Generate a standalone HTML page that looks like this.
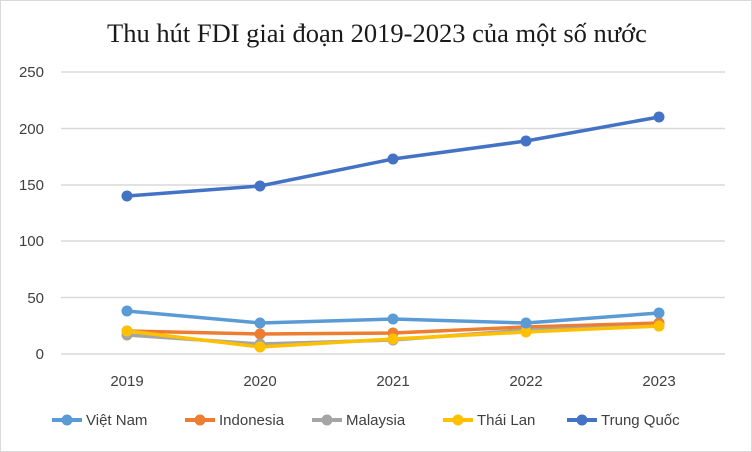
<!DOCTYPE html>
<html><head><meta charset="utf-8"><style>
body{margin:0;background:#fff}
svg{display:block}
</style></head><body>
<svg width="752" height="452" viewBox="0 0 752 452" xmlns="http://www.w3.org/2000/svg">
<rect x="0.5" y="0.5" width="751" height="451" fill="#fff" stroke="#d9d9d9"/>
<text x="377" y="42" text-anchor="middle" font-family="Liberation Serif, serif" font-size="26.5" fill="#1a1a1a">Thu hút FDI giai  đoạn 2019-2023 của một số nước</text>
<g stroke="#d9d9d9" stroke-width="1.5">
<line x1="61" x2="725" y1="72" y2="72"/><line x1="61" x2="725" y1="128.5" y2="128.5"/><line x1="61" x2="725" y1="185" y2="185"/><line x1="61" x2="725" y1="241" y2="241"/><line x1="61" x2="725" y1="297.5" y2="297.5"/><line x1="61" x2="725" y1="354" y2="354"/>
</g>
<g font-family="Liberation Sans, sans-serif" font-size="15" fill="#404040" text-anchor="end">
<text x="44" y="77">250</text><text x="44" y="134">200</text><text x="44" y="190">150</text><text x="44" y="246">100</text><text x="44" y="303">50</text><text x="44" y="359">0</text>
</g>
<g font-family="Liberation Sans, sans-serif" font-size="15" fill="#404040" text-anchor="middle">
<text x="127" y="386">2019</text><text x="260" y="386">2020</text><text x="393" y="386">2021</text><text x="526" y="386">2022</text><text x="659" y="386">2023</text>
</g>
<g stroke-width="3.5" fill="none" stroke-linejoin="round">
<polyline stroke="#ed7d31" points="127,331 260,334 393,333 526,327 659,323"/>
<polyline stroke="#a5a5a5" points="127,335 260,344 393,340 526,330 659,326"/>
<polyline stroke="#ffc000" points="127,331 260,347 393,339 526,332 659,326"/>
<polyline stroke="#5b9bd5" points="127,311 260,323 393,319 526,323 659,313"/>
<polyline stroke="#4472c4" points="127,196 260,186 393,159 526,141 659,117"/>
</g>
<g>
<g fill="#ed7d31"><circle cx="127" cy="331" r="5.5"/><circle cx="260" cy="334" r="5.5"/><circle cx="393" cy="333" r="5.5"/><circle cx="526" cy="327" r="5.5"/><circle cx="659" cy="323" r="5.5"/></g>
<g fill="#a5a5a5"><circle cx="127" cy="335" r="5.5"/><circle cx="260" cy="344" r="5.5"/><circle cx="393" cy="340" r="5.5"/><circle cx="526" cy="330" r="5.5"/><circle cx="659" cy="326" r="5.5"/></g>
<g fill="#ffc000"><circle cx="127" cy="331" r="5.5"/><circle cx="260" cy="347" r="5.5"/><circle cx="393" cy="339" r="5.5"/><circle cx="526" cy="332" r="5.5"/><circle cx="659" cy="326" r="5.5"/></g>
<g fill="#5b9bd5"><circle cx="127" cy="311" r="5.5"/><circle cx="260" cy="323" r="5.5"/><circle cx="393" cy="319" r="5.5"/><circle cx="526" cy="323" r="5.5"/><circle cx="659" cy="313" r="5.5"/></g>
<g fill="#4472c4"><circle cx="127" cy="196" r="5.5"/><circle cx="260" cy="186" r="5.5"/><circle cx="393" cy="159" r="5.5"/><circle cx="526" cy="141" r="5.5"/><circle cx="659" cy="117" r="5.5"/></g>
</g>
<g font-family="Liberation Sans, sans-serif" font-size="15" fill="#404040">
<line x1="52" x2="82" y1="420" y2="420" stroke="#5b9bd5" stroke-width="4"/><circle cx="67" cy="420" r="5.5" fill="#5b9bd5"/><text x="86" y="425">Việt Nam</text>
<line x1="185" x2="215" y1="420" y2="420" stroke="#ed7d31" stroke-width="4"/><circle cx="200" cy="420" r="5.5" fill="#ed7d31"/><text x="219" y="425">Indonesia</text>
<line x1="312" x2="342" y1="420" y2="420" stroke="#a5a5a5" stroke-width="4"/><circle cx="327" cy="420" r="5.5" fill="#a5a5a5"/><text x="346" y="425">Malaysia</text>
<line x1="443" x2="473" y1="420" y2="420" stroke="#ffc000" stroke-width="4"/><circle cx="458" cy="420" r="5.5" fill="#ffc000"/><text x="477" y="425">Thái Lan</text>
<line x1="567" x2="597" y1="420" y2="420" stroke="#4472c4" stroke-width="4"/><circle cx="582" cy="420" r="5.5" fill="#4472c4"/><text x="601" y="425">Trung Quốc</text>
</g>
</svg>
</body></html>
